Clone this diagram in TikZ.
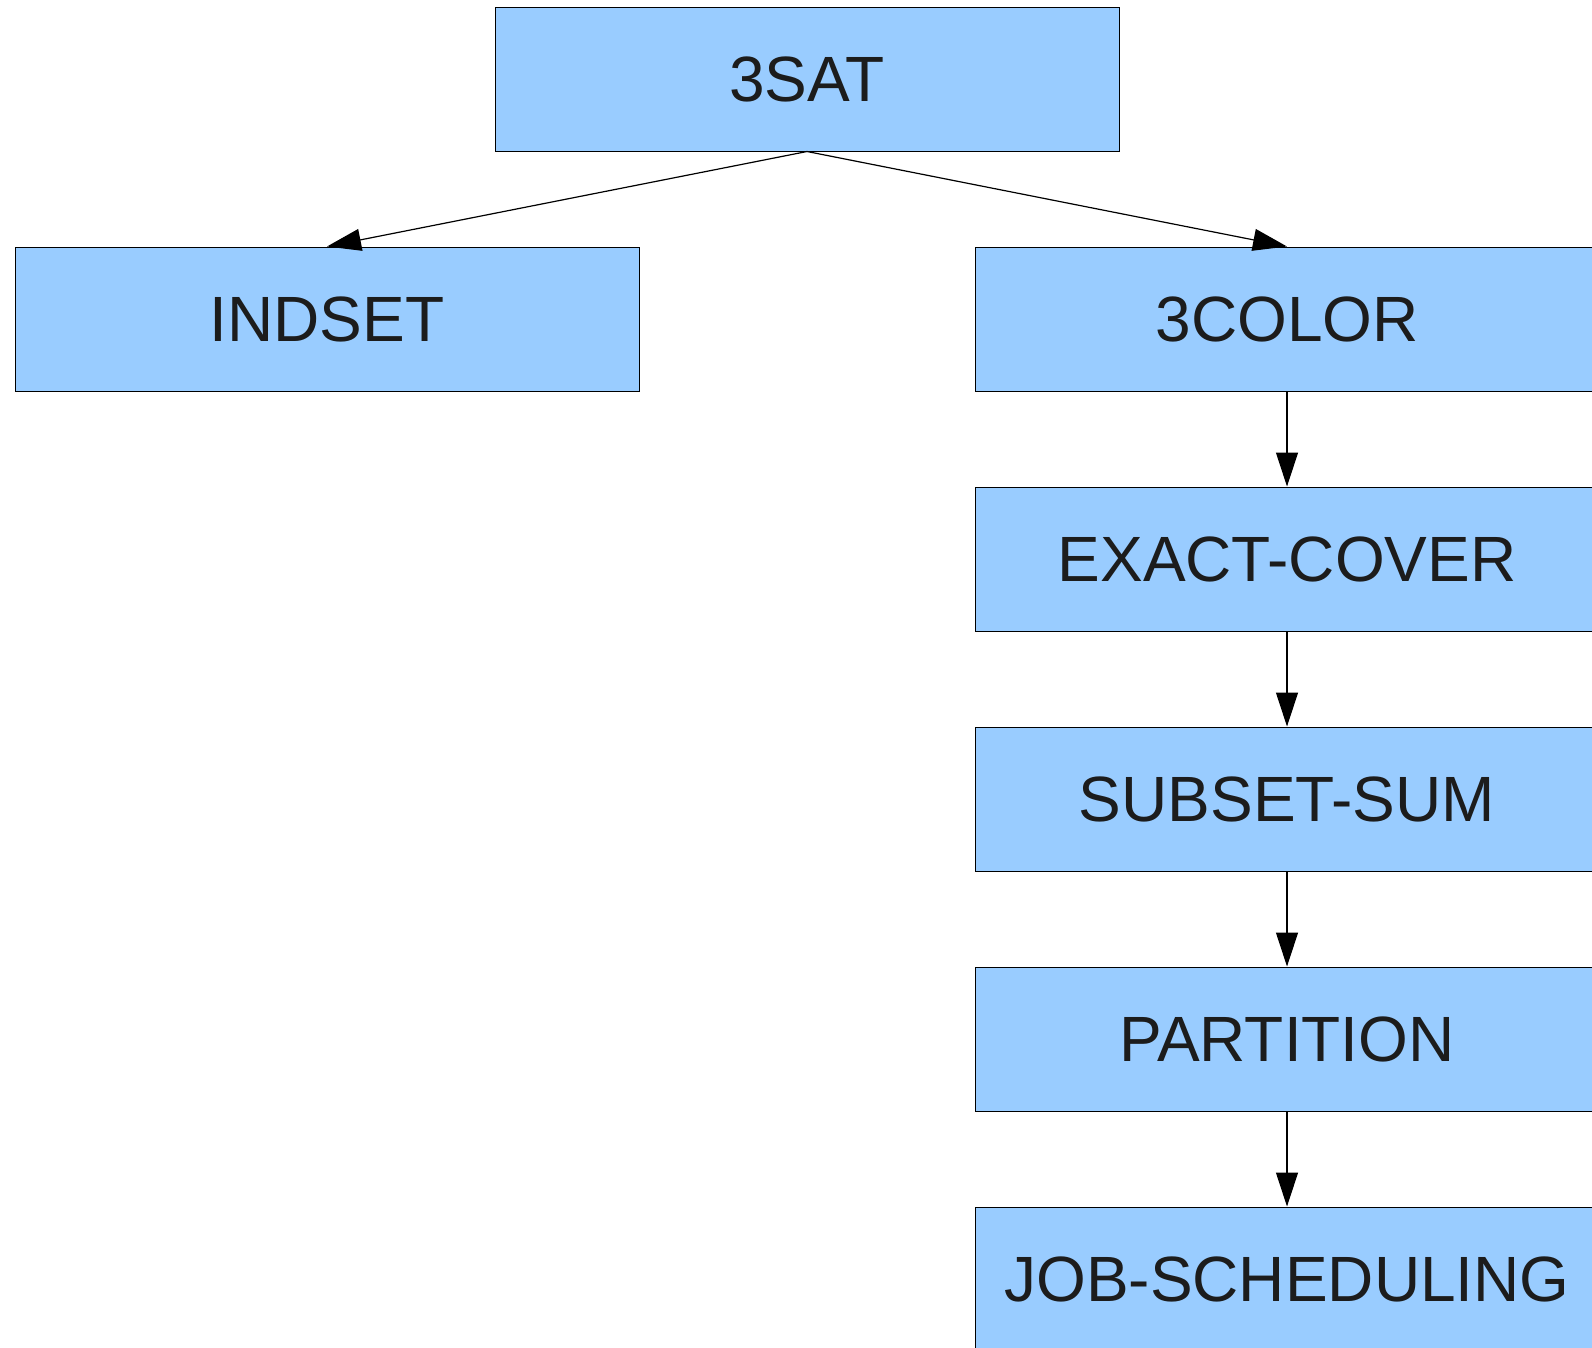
\documentclass[tikz,border=0pt]{standalone}
\usepackage{fontspec}
\setmainfont{Liberation Sans}
\usetikzlibrary{arrows.meta}
\definecolor{boxblue}{HTML}{99CCFF}
\definecolor{textgray}{HTML}{1C1C1C}
\newcommand{\bigfont}{\fontsize{64}{76}\selectfont}
\begin{document}
\begin{tikzpicture}[x=1pt,y=-1pt,
  box/.style={draw=black, line width=1pt, fill=boxblue, minimum width=624pt,
    minimum height=144pt, inner sep=0pt, text=textgray, font=\bigfont},
  link/.style={-{Triangle[length=34pt,width=22pt]}, line width=1.2pt}]
\useasboundingbox (0,0) rectangle (1592,1347);
\clip (0,0) rectangle (1592,1347);
\node[box] (sat) at (807,79) {3SAT};
\node[box] (indset) at (327,319) {INDSET};
\node[box] (color) at (1287,319) {3COLOR};
\node[box] (exact) at (1287,559) {EXACT-COVER};
\node[box] (subset) at (1287,799) {SUBSET-SUM};
\node[box] (part) at (1287,1039) {PARTITION};
\node[box] (job) at (1287,1279) {JOB-SCHEDULING};
\draw[link] (sat.south) -- (indset.north);
\draw[link] (sat.south) -- (color.north);
\draw[link] (color.south) -- (exact.north);
\draw[link] (exact.south) -- (subset.north);
\draw[link] (subset.south) -- (part.north);
\draw[link] (part.south) -- (job.north);
\end{tikzpicture}
\end{document}
